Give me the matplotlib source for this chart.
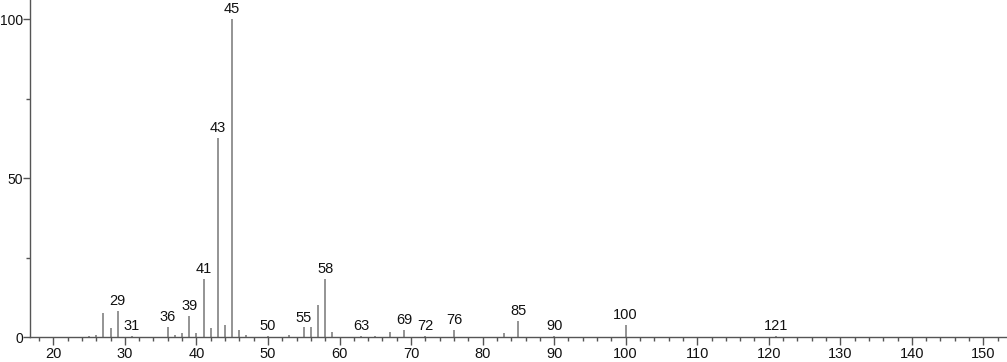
import matplotlib
matplotlib.use("Agg")
import matplotlib.pyplot as plt
from matplotlib.ticker import MultipleLocator

plt.rcParams['font.family'] = ['Liberation Sans', 'DejaVu Sans']

# m/z and relative intensity
mz = [25, 26, 27, 28, 29, 31, 36, 37, 38, 39, 40, 41, 42, 43, 44, 45, 46, 47,
      50, 53, 55, 56, 57, 58, 59, 63, 65, 67, 69, 72, 76, 83, 85, 90, 100, 121]
inten = [0.3, 0.5, 7.6, 2.7, 8.3, 0.4, 3.1, 0.5, 1.4, 6.6, 1.2, 18.2, 2.7, 62.6, 3.7,
         100.0, 2.2, 0.5, 0.3, 0.5, 3.0, 3.0, 10.0, 18.2, 1.5, 0.4, 0.4, 1.7, 2.3,
         0.4, 2.2, 1.3, 5.0, 0.3, 3.8, 0.3]
labeled = [29, 31, 36, 39, 41, 43, 45, 50, 55, 58, 63, 69, 72, 76, 85, 90, 100, 121]

fig = plt.figure(figsize=(10.07, 3.62), dpi=100)
ax = fig.add_axes([0.0298, 0.069, 0.9702, 0.931])

ax.vlines(mz, 0, inten, color='#777777', linewidth=1.1)
for m, h in zip(mz, inten):
    if m in labeled:
        ax.text(m, h + 0.9, str(m), ha='center', va='bottom', fontsize=10.5, color='#111111')

ax.set_xlim(16.74, 153.3)
ax.set_ylim(0, 106)

for s in ['top', 'right']:
    ax.spines[s].set_visible(False)
for s in ['left', 'bottom']:
    ax.spines[s].set_color('#555555')
    ax.spines[s].set_linewidth(1.0)

ax.xaxis.set_major_locator(MultipleLocator(10))
ax.xaxis.set_minor_locator(MultipleLocator(2))
ax.yaxis.set_major_locator(MultipleLocator(50))
ax.yaxis.set_minor_locator(MultipleLocator(25))
ax.tick_params(axis='x', which='major', length=6, width=1, color='#555555',
               labelsize=10.5, labelcolor='#111111', pad=1)
ax.tick_params(axis='y', which='major', length=5, width=1, color='#555555',
               labelsize=10, labelcolor='#111111', pad=0)
ax.tick_params(axis='both', which='minor', length=3, width=1, color='#555555')

fig.savefig("out.png", dpi=100)
